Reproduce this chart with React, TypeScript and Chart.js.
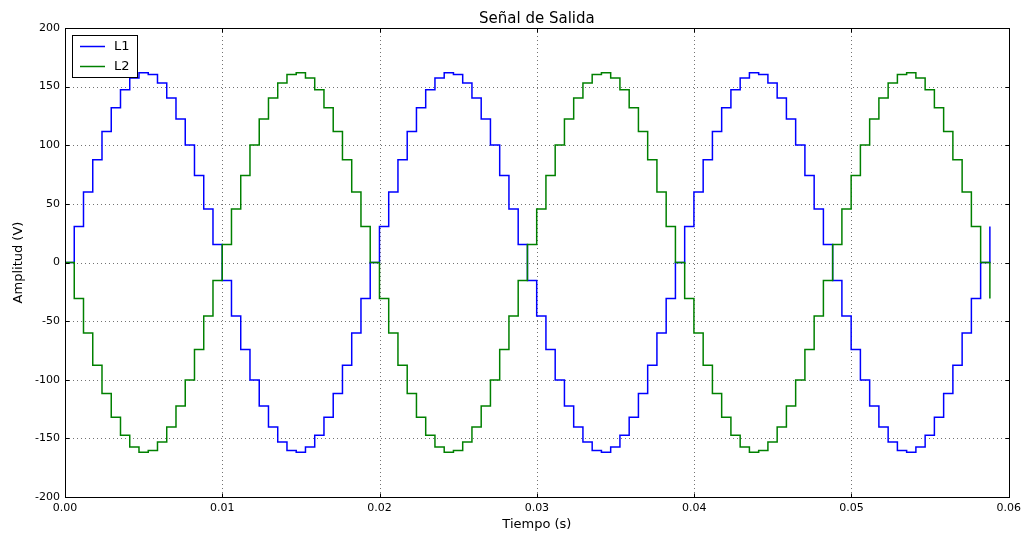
import React, { useEffect, useRef } from "react";
import { Chart, registerables } from "chart.js";

Chart.register(...registerables);

// Sample period of the staircase waveform (100 steps up to ~0.0588 s)
const SAMPLE_PERIOD_S = 0.000588;

// L1 staircase levels, one per sample (V)
const L1_VALUES = [
  0, 30.7, 60.2, 87.6, 111.8, 132.0, 147.4, 157.4, 161.8, 160.3, 153.1, 140.3, 122.4, 100.2, 74.2, 45.6, 15.4,
  -15.4, -45.6, -74.2, -100.2, -122.4, -140.3, -153.1, -160.3, -161.8, -157.4, -147.4, -132.0, -111.8, -87.6, -60.2, -30.7,
  0, 30.7, 60.2, 87.6, 111.8, 132.0, 147.4, 157.4, 161.8, 160.3, 153.1, 140.3, 122.4, 100.2, 74.2, 45.6, 15.4,
  -15.4, -45.6, -74.2, -100.2, -122.4, -140.3, -153.1, -160.3, -161.8, -157.4, -147.4, -132.0, -111.8, -87.6, -60.2, -30.7,
  0, 30.7, 60.2, 87.6, 111.8, 132.0, 147.4, 157.4, 161.8, 160.3, 153.1, 140.3, 122.4, 100.2, 74.2, 45.6, 15.4,
  -15.4, -45.6, -74.2, -100.2, -122.4, -140.3, -153.1, -160.3, -161.8, -157.4, -147.4, -132.0, -111.8, -87.6, -60.2, -30.7,
  0, 30.7,
];

// L2 staircase levels, one per sample (V)
const L2_VALUES = [
  0, -30.7, -60.2, -87.6, -111.8, -132.0, -147.4, -157.4, -161.8, -160.3, -153.1, -140.3, -122.4, -100.2, -74.2, -45.6, -15.4,
  15.4, 45.6, 74.2, 100.2, 122.4, 140.3, 153.1, 160.3, 161.8, 157.4, 147.4, 132.0, 111.8, 87.6, 60.2, 30.7,
  0, -30.7, -60.2, -87.6, -111.8, -132.0, -147.4, -157.4, -161.8, -160.3, -153.1, -140.3, -122.4, -100.2, -74.2, -45.6, -15.4,
  15.4, 45.6, 74.2, 100.2, 122.4, 140.3, 153.1, 160.3, 161.8, 157.4, 147.4, 132.0, 111.8, 87.6, 60.2, 30.7,
  0, -30.7, -60.2, -87.6, -111.8, -132.0, -147.4, -157.4, -161.8, -160.3, -153.1, -140.3, -122.4, -100.2, -74.2, -45.6, -15.4,
  15.4, 45.6, 74.2, 100.2, 122.4, 140.3, 153.1, 160.3, 161.8, 157.4, 147.4, 132.0, 111.8, 87.6, 60.2, 30.7,
  0, -30.7,
];

const X_TICKS = [0, 0.01, 0.02, 0.03, 0.04, 0.05, 0.06];
const Y_TICKS = [-200, -150, -100, -50, 0, 50, 100, 150, 200];
const SERIES_NAMES = ["L1", "L2"];
const SERIES_COLORS = ["#0000ff", "#008000"];
const TITLE = "Señal de Salida";
const X_LABEL = "Tiempo (s)";
const Y_LABEL = "Amplitud (V)";

const FONT = "'DejaVu Sans', sans-serif";

const decorPlugin = {
  id: "decor",
  beforeDatasetsDraw(chart: any) {
    const { ctx, chartArea } = chart;
    const xs = chart.scales.x;
    const ys = chart.scales.y;
    ctx.save();
    ctx.strokeStyle = "rgba(0,0,0,0.55)";
    ctx.lineWidth = 1;
    ctx.setLineDash([1, 3]);
    for (const v of X_TICKS) {
      const px = Math.round(xs.getPixelForValue(v)) + 0.5;
      ctx.beginPath();
      ctx.moveTo(px, chartArea.top);
      ctx.lineTo(px, chartArea.bottom);
      ctx.stroke();
    }
    for (const v of Y_TICKS) {
      const py = Math.round(ys.getPixelForValue(v)) + 0.5;
      ctx.beginPath();
      ctx.moveTo(chartArea.left, py);
      ctx.lineTo(chartArea.right, py);
      ctx.stroke();
    }
    ctx.restore();
  },
  afterDatasetsDraw(chart: any) {
    const { ctx, chartArea } = chart;
    const xs = chart.scales.x;
    const ys = chart.scales.y;
    const L = Math.round(chartArea.left) + 0.5;
    const R = Math.round(chartArea.right) + 0.5;
    const T = Math.round(chartArea.top) + 0.5;
    const B = Math.round(chartArea.bottom) + 0.5;
    ctx.save();
    // ticks (inward, all sides)
    ctx.strokeStyle = "#000";
    ctx.lineWidth = 1;
    for (const v of X_TICKS) {
      const px = Math.round(xs.getPixelForValue(v)) + 0.5;
      ctx.beginPath();
      ctx.moveTo(px, B);
      ctx.lineTo(px, B - 4);
      ctx.moveTo(px, T);
      ctx.lineTo(px, T + 4);
      ctx.stroke();
    }
    for (const v of Y_TICKS) {
      const py = Math.round(ys.getPixelForValue(v)) + 0.5;
      ctx.beginPath();
      ctx.moveTo(L, py);
      ctx.lineTo(L + 4, py);
      ctx.moveTo(R, py);
      ctx.lineTo(R - 4, py);
      ctx.stroke();
    }
    // frame
    ctx.strokeRect(L, T, R - L, B - T);

    // title
    ctx.fillStyle = "#000";
    ctx.textAlign = "center";
    ctx.textBaseline = "middle";
    ctx.font = `15px ${FONT}`;
    ctx.fillText(TITLE, (chartArea.left + chartArea.right) / 2, 19);

    // axis labels
    ctx.font = `13px ${FONT}`;
    ctx.fillText(X_LABEL, (chartArea.left + chartArea.right) / 2, 525);
    ctx.save();
    ctx.translate(19, (chartArea.top + chartArea.bottom) / 2);
    ctx.rotate(-Math.PI / 2);
    ctx.fillText(Y_LABEL, 0, 0);
    ctx.restore();

    // legend
    ctx.fillStyle = "#fff";
    ctx.fillRect(72.5, 35.5, 65, 42);
    ctx.strokeStyle = "#000";
    ctx.strokeRect(72.5, 35.5, 65, 42);
    ctx.font = `13px ${FONT}`;
    ctx.textAlign = "left";
    SERIES_NAMES.forEach((name, i) => {
      const y = 46 + i * 20;
      ctx.strokeStyle = SERIES_COLORS[i];
      ctx.lineWidth = 1.5;
      ctx.beginPath();
      ctx.moveTo(80, y + 0.5);
      ctx.lineTo(105, y + 0.5);
      ctx.stroke();
      ctx.fillStyle = "#000";
      ctx.fillText(name, 114, y + 1);
    });
    ctx.restore();
  },
};

export default function App() {
  const canvasRef = useRef<HTMLCanvasElement | null>(null);

  useEffect(() => {
    if (!canvasRef.current) return;
    const toPoints = (vals: number[]) => vals.map((v, k) => ({ x: k * SAMPLE_PERIOD_S, y: v }));
    const chart = new Chart(canvasRef.current, {
      type: "line",
      data: {
        datasets: [
          {
            label: SERIES_NAMES[0],
            data: toPoints(L1_VALUES),
            borderColor: SERIES_COLORS[0],
            borderWidth: 1.5,
            pointRadius: 0,
            stepped: "before",
            fill: false,
            order: 1,
          },
          {
            label: SERIES_NAMES[1],
            data: toPoints(L2_VALUES),
            borderColor: SERIES_COLORS[1],
            borderWidth: 1.5,
            pointRadius: 0,
            stepped: "before",
            fill: false,
            order: 0,
          },
        ],
      },
      options: {
        animation: false,
        responsive: false,
        maintainAspectRatio: false,
        layout: { padding: { top: 28, right: 17, left: 0, bottom: 0 } },
        plugins: {
          legend: { display: false },
          title: { display: false },
          tooltip: { enabled: false },
        },
        scales: {
          x: {
            type: "linear",
            min: 0,
            max: 0.06,
            afterBuildTicks: (s: any) => {
              s.ticks = X_TICKS.map((v) => ({ value: v }));
            },
            afterFit: (s: any) => {
              s.height = 37;
            },
            ticks: {
              callback: (v: any) => Number(v).toFixed(2),
              font: { family: FONT, size: 11 },
              color: "#000",
              padding: 5,
              maxRotation: 0,
              autoSkip: false,
            },
            grid: { display: false, drawTicks: false },
            border: { display: false },
          },
          y: {
            type: "linear",
            min: -200,
            max: 200,
            afterBuildTicks: (s: any) => {
              s.ticks = Y_TICKS.map((v) => ({ value: v }));
            },
            afterFit: (s: any) => {
              s.width = 65;
            },
            ticks: {
              callback: (v: any) => String(v),
              font: { family: FONT, size: 11 },
              color: "#000",
              padding: 5,
              autoSkip: false,
            },
            grid: { display: false, drawTicks: false },
            border: { display: false },
          },
        },
      },
      plugins: [decorPlugin],
    });
    return () => chart.destroy();
  }, []);

  return (
    <div style={{ position: "fixed", left: 0, top: 0, width: 1026, height: 534, background: "#fff" }}>
      <canvas ref={canvasRef} width={1026} height={534} style={{ width: 1026, height: 534, display: "block" }} />
    </div>
  );
}
